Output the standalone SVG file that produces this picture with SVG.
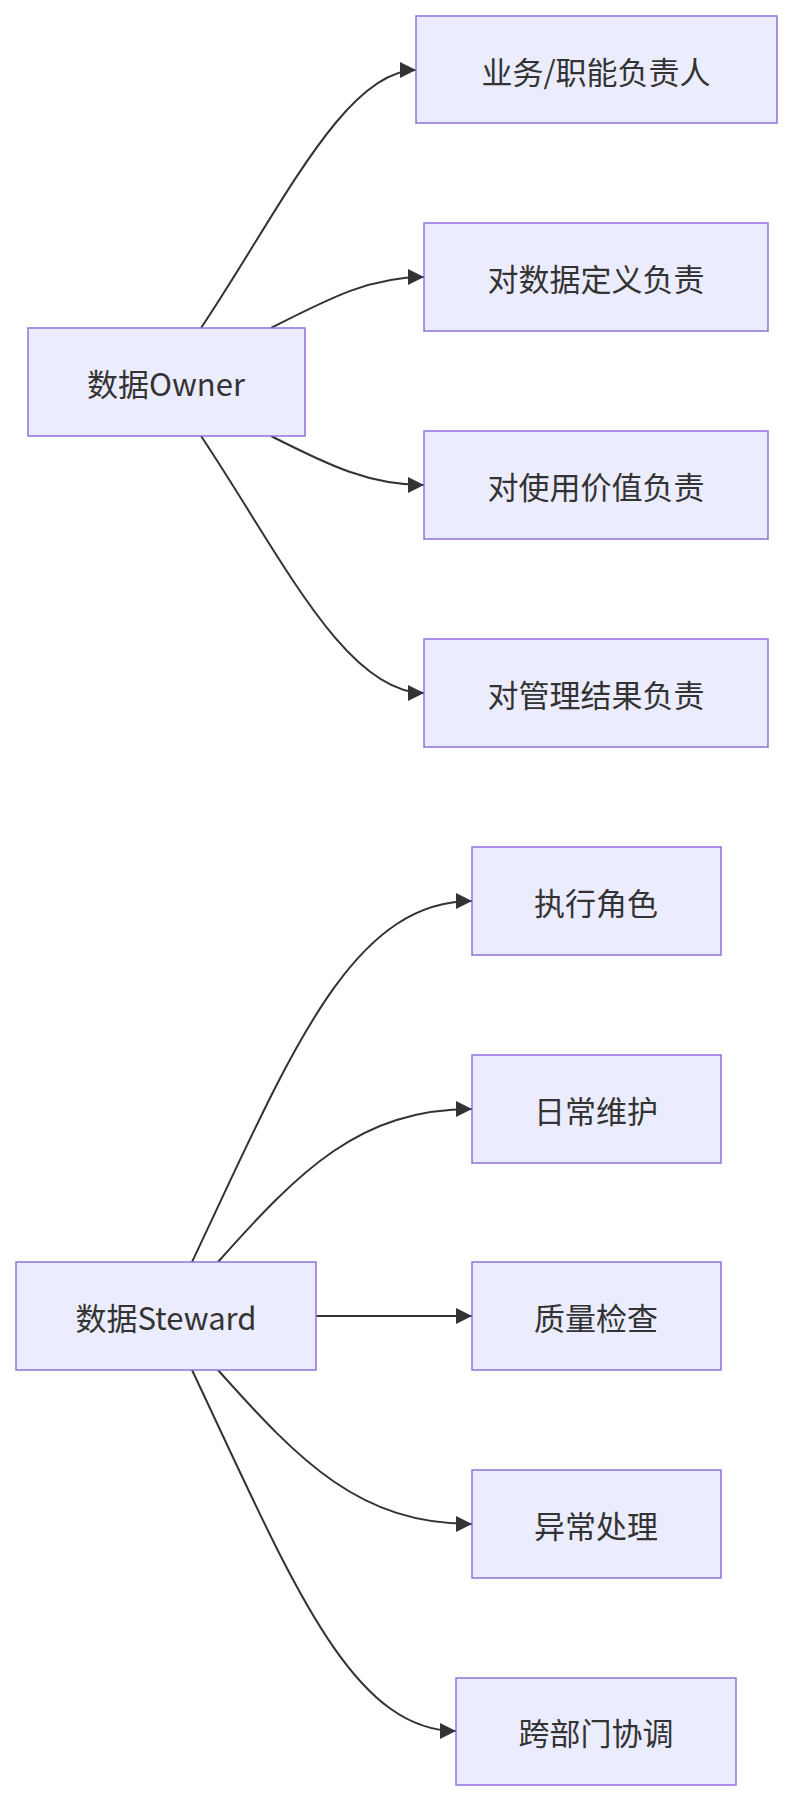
<svg xmlns="http://www.w3.org/2000/svg" width="793" height="1804" viewBox="0 0 793 1804">
<style>
.n rect{fill:#ECECFF;stroke:#9370DB;stroke-width:1.5}
.n text{font-family:"Noto Sans CJK SC","Liberation Sans",sans-serif;font-size:31px;fill:#333;text-anchor:middle;dominant-baseline:central}
.e path{fill:none;stroke:#333;stroke-width:2}
</style>
<defs><marker id="a" viewBox="0 0 10 10" refX="10" refY="5" markerWidth="16" markerHeight="16" markerUnits="userSpaceOnUse" orient="auto"><path d="M0,0L10,5L0,10z" fill="#333"/></marker></defs>
<rect width="793" height="1804" fill="#fff"/>
<g class="e">
<path marker-end="url(#a)" d="M201,328 C280,210 345,70 416,70"/>
<path marker-end="url(#a)" d="M271,328 C330,298 370,277 424,277"/>
<path marker-end="url(#a)" d="M271,436 C330,466 370,485 424,485"/>
<path marker-end="url(#a)" d="M201,436 C280,554 345,693 424,693"/>
<path marker-end="url(#a)" d="M192,1262 C290,1055 350,901 472,901"/>
<path marker-end="url(#a)" d="M218,1262 C300,1170 360,1109 472,1109"/>
<path marker-end="url(#a)" d="M316,1316 L472,1316"/>
<path marker-end="url(#a)" d="M218,1370 C300,1462 360,1524 472,1524"/>
<path marker-end="url(#a)" d="M192,1370 C290,1577 350,1731 456,1731"/>
</g>
<g id="owner" class="n"><rect x="28" y="328" width="277" height="108"/><text x="166" y="382">数据Owner</text></g>
<g id="o1" class="n"><rect x="416" y="16" width="361" height="107"/><text x="596" y="70">业务/职能负责人</text></g>
<g id="o2" class="n"><rect x="424" y="223" width="344" height="108"/><text x="596" y="277">对数据定义负责</text></g>
<g id="o3" class="n"><rect x="424" y="431" width="344" height="108"/><text x="596" y="485">对使用价值负责</text></g>
<g id="o4" class="n"><rect x="424" y="639" width="344" height="108"/><text x="596" y="693">对管理结果负责</text></g>
<g id="steward" class="n"><rect x="16" y="1262" width="300" height="108"/><text x="166" y="1316">数据Steward</text></g>
<g id="s1" class="n"><rect x="472" y="847" width="249" height="108"/><text x="596" y="901">执行角色</text></g>
<g id="s2" class="n"><rect x="472" y="1055" width="249" height="108"/><text x="596" y="1109">日常维护</text></g>
<g id="s3" class="n"><rect x="472" y="1262" width="249" height="108"/><text x="596" y="1316">质量检查</text></g>
<g id="s4" class="n"><rect x="472" y="1470" width="249" height="108"/><text x="596" y="1524">异常处理</text></g>
<g id="s5" class="n"><rect x="456" y="1678" width="280" height="107"/><text x="596" y="1731">跨部门协调</text></g>
</svg>
